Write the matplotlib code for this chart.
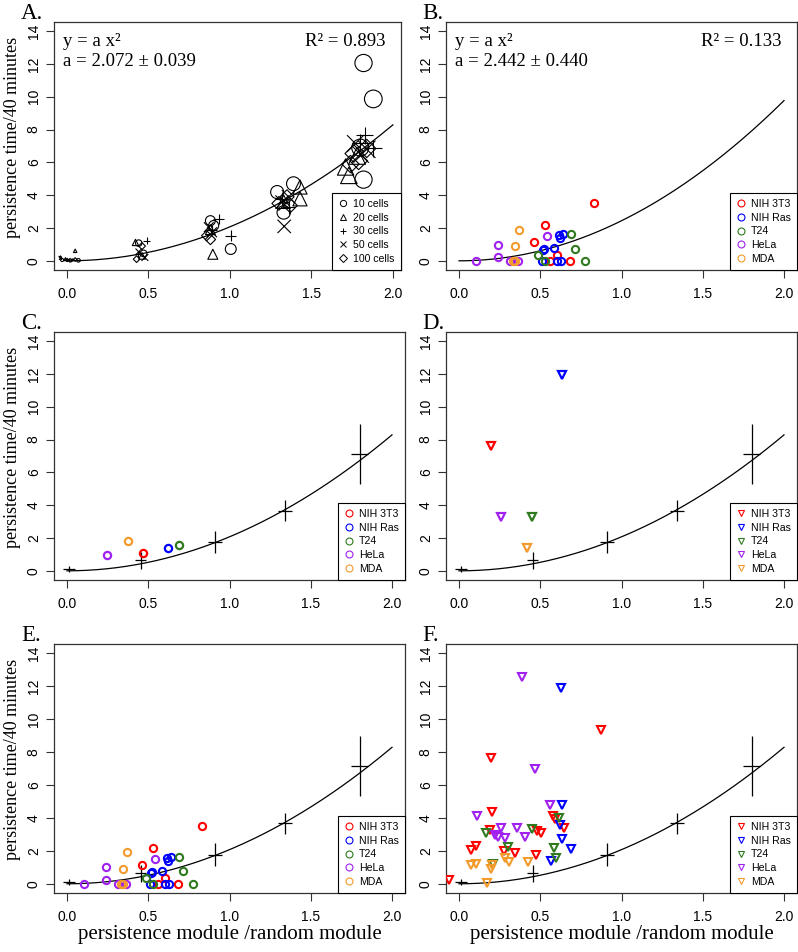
import numpy as np
import matplotlib
matplotlib.use('Agg')
import matplotlib.pyplot as plt
from matplotlib.lines import Line2D

SERIF = ['Liberation Serif', 'DejaVu Serif']
SANS = ['Liberation Sans', 'DejaVu Sans']
plt.rcParams['font.family'] = SANS

# ---------------- data ----------------
# Panel A: persistence data grouped by number of cells
group_labels = ['10 cells', '20 cells', '30 cells', '50 cells', '100 cells']
g10_x = [-0.03, 0.02, 0.07, 0.44, 0.47, 0.88, 0.90, 1.005, 1.29, 1.33, 1.39, 1.82, 1.88, 1.82, 1.80]
g10_y = [0.05, 0.02, 0.03, 1.08, 0.45, 2.45, 2.15, 0.72, 4.19, 2.95, 4.70, 12.06, 9.87, 4.95, 6.90]
g20_x = [0.05, -0.01, 0.42, 0.46, 0.895, 0.88, 1.33, 1.43, 1.43, 1.71, 1.73, 1.78]
g20_y = [0.61, 0.10, 1.12, 0.30, 0.40, 1.90, 3.60, 4.50, 3.78, 5.72, 5.21, 6.40]
g30_x = [-0.045, 0.03, 0.437, 0.488, 0.93, 1.005, 0.89, 1.32, 1.36, 1.826, 1.88, 1.80]
g30_y = [0.27, 0.10, 0.41, 1.23, 2.55, 1.53, 1.90, 3.78, 3.30, 7.66, 6.85, 7.20]
g50_x = [-0.04, 0.01, 0.478, 0.44, 0.89, 0.87, 1.333, 1.32, 1.36, 1.77, 1.84, 1.80]
g50_y = [0.15, 0.05, 0.20, 0.55, 1.74, 2.05, 2.10, 3.58, 3.90, 7.15, 6.80, 6.50]
g100_x = [0.0, 0.05, 0.427, 0.46, 0.857, 0.88, 1.30, 1.37, 1.35, 1.76, 1.84, 1.79, 1.74]
g100_y = [0.05, 0.08, 0.10, 0.90, 1.53, 1.30, 3.50, 3.37, 3.90, 6.54, 6.85, 6.10, 5.90]

# Fit parameters
fit_a_main = 2.072
fit_a_main_err = 0.039
fit_r2_main = 0.893
fit_a_cells = 2.442
fit_a_cells_err = 0.440
fit_r2_cells = 0.133

# Mean values of the group data (error crosses)
mean_x = [0.011, 0.454, 0.91, 1.342, 1.80]
mean_y = [0.10, 0.63, 1.77, 3.67, 7.13]
mean_xerr = [0.036, 0.035, 0.045, 0.045, 0.05]
mean_yerr = [0.17, 0.50, 0.68, 0.64, 1.83]

# Cell lines
cell_types = ['NIH 3T3', 'NIH Ras', 'T24', 'HeLa', 'MDA']

# Panel B / E: individual cell-line measurements
b_3t3_x = [0.831, 0.529, 0.463, 0.606, 0.561, 0.684]
b_3t3_y = [3.51, 2.16, 1.15, 0.38, 0.0, 0.0]
b_ras_x = [0.616, 0.622, 0.637, 0.586, 0.524, 0.514, 0.510, 0.606, 0.627]
b_ras_y = [1.55, 1.39, 1.63, 0.79, 0.71, 0.65, 0.0, 0.0, 0.0]
b_t24_x = [0.688, 0.714, 0.488, 0.529, 0.776]
b_t24_y = [1.61, 0.75, 0.38, 0.0, 0.0]
b_hela_x = [0.106, 0.239, 0.239, 0.541, 0.316, 0.361]
b_hela_y = [0.0, 0.99, 0.24, 1.51, 0.0, 0.0]
b_mda_x = [0.367, 0.343, 0.331, 0.345]
b_mda_y = [1.90, 0.89, 0.0, 0.0]

# Panel C: cell-line means (circles)
c_x = [0.47, 0.624, 0.689, 0.244, 0.373]
c_y = [1.09, 1.42, 1.58, 0.95, 1.84]

# Panel D: cell-line means (triangles)
d_x = [0.195, 0.633, 0.45, 0.257, 0.421]
d_y = [7.64, 11.92, 3.28, 3.28, 1.37]

# Panel F: individual measurements (triangles)
f_3t3_x = [-0.062, 0.196, 0.872, 0.206, 0.192, 0.076, 0.107, 0.278, 0.344, 0.474, 0.478, 0.507, 0.577, 0.588, 0.649]
f_3t3_y = [0.25, 7.66, 9.34, 4.35, 3.27, 2.04, 2.31, 2.00, 1.88, 1.74, 3.21, 3.07, 4.09, 3.94, 3.37]
f_ras_x = [0.629, 0.633, 0.623, 0.635, 0.691, 0.567]
f_ras_y = [11.91, 4.80, 3.54, 2.70, 2.10, 1.37]
f_t24_x = [0.169, 0.299, 0.449, 0.584, 0.614, 0.594, 0.21]
f_t24_y = [3.07, 2.25, 3.33, 2.19, 3.99, 1.57, 1.20]
f_hela_x = [0.388, 0.470, 0.109, 0.563, 0.256, 0.223, 0.241, 0.285, 0.357, 0.408]
f_hela_y = [12.53, 7.00, 4.09, 4.76, 3.37, 2.96, 2.82, 2.76, 3.37, 2.86]
f_mda_x = [0.171, 0.072, 0.103, 0.202, 0.196, 0.285, 0.305, 0.423]
f_mda_y = [0.05, 1.12, 1.23, 1.16, 0.92, 1.59, 1.33, 1.33]

x_ticks = [0.0, 0.5, 1.0, 1.5, 2.0]
x_tick_labels = ['0.0', '0.5', '1.0', '1.5', '2.0']
y_ticks = [0, 2, 4, 6, 8, 10, 12, 14]
y_tick_labels = ['0', '2', '4', '6', '8', '10', '12', '14']
x_title = 'persistence module /random module'
y_title = 'persistence time/40 minutes'
panel_letters = ['A.', 'B.', 'C.', 'D.', 'E.', 'F.']

# ---------------- styling ----------------
type_colors = ['#FF0000', '#0000FF', '#2F7A1E', '#A020F0', '#F39A2D']
group_markers = ['o', '^', '+', 'x', 'D']
W, H = 798, 952
FRAME = '#333333'

fig = plt.figure(figsize=(W / 100, H / 100), dpi=100)


def box(l, r, t, b):
    return [l / W, 1 - b / H, (r - l) / W, (b - t) / H]


LCOL = (54, 405)
RCOL = (446, 797)
ROWS = [(22, 270), (332, 580), (644, 893)]


def setup(ax, xlim=(-0.08, 2.08)):
    ax.set_xlim(*xlim)
    ax.set_ylim(-0.56, 14.56)
    ax.set_xticks(x_ticks)
    ax.set_xticklabels(x_tick_labels)
    ax.set_yticks(y_ticks)
    ax.set_yticklabels(y_tick_labels, rotation=90, va='center')
    ax.tick_params(direction='out', length=5.5, width=0.8, color=FRAME,
                   labelsize=10, pad=7)
    ax.tick_params(axis='y', pad=4)
    for s in ax.spines.values():
        s.set_color(FRAME)
        s.set_linewidth(0.9)


def curve(ax, a):
    xs = np.linspace(0, 2, 200)
    ax.plot(xs, a * xs ** 2, color='black', lw=0.9, zorder=2)


def crosses(ax):
    ax.errorbar(mean_x, mean_y, xerr=mean_xerr, yerr=mean_yerr, fmt='none',
                ecolor='black', elinewidth=0.9, capsize=0, zorder=3)


def legend_types(ax, marker):
    handles = [Line2D([], [], linestyle='none', marker=marker, markersize=5,
                      markerfacecolor='none', markeredgecolor=c, markeredgewidth=0.8)
               for c in type_colors]
    leg = ax.legend(handles, cell_types, loc='lower right', bbox_to_anchor=(1.0, 0.0),
                    borderaxespad=0.0, fontsize=7.6, handlelength=0.9,
                    handletextpad=0.5, labelspacing=0.35, borderpad=0.6,
                    fancybox=False, framealpha=1, edgecolor='black')
    leg.get_frame().set_linewidth(0.8)


def letter(ax_box, txt):
    l, t = ax_box
    fig.text(l / W, 1 - (t - 3) / H, txt, family=SERIF, fontsize=16.5,
             ha='left', va='baseline')


# ---- A ----
axA = fig.add_axes(box(54, 401, *ROWS[0]))
setup(axA, xlim=(-0.08, 2.05))
curve(axA, fit_a_main)
groups = [(g10_x, g10_y), (g20_x, g20_y), (g30_x, g30_y), (g50_x, g50_y), (g100_x, g100_y)]
for (gx, gy), mk in zip(groups, group_markers):
    gx = np.array(gx)
    gy = np.array(gy)
    sizes = (2.2 + 5.6 * np.clip(gx, 0, None)) ** 2
    if mk == 'D':
        sizes = sizes * 0.55
    if mk in ('+', 'x'):
        axA.scatter(gx, gy, s=sizes, marker=mk, color='black', linewidths=0.8, zorder=4)
    else:
        axA.scatter(gx, gy, s=sizes, marker=mk, facecolors='none', edgecolors='black',
                    linewidths=0.8, zorder=4)
handles = []
for mk in group_markers:
    ms = 4.5 if mk != 'D' else 3.6
    handles.append(Line2D([], [], linestyle='none', marker=mk, markersize=ms,
                          markerfacecolor='none', markeredgecolor='black', markeredgewidth=0.7))
leg = axA.legend(handles, group_labels, loc='lower right', bbox_to_anchor=(1.0, 0.0),
                 borderaxespad=0.0, fontsize=7.6, handlelength=0.9, handletextpad=0.5,
                 labelspacing=0.35, borderpad=0.6, fancybox=False, framealpha=1,
                 edgecolor='black')
leg.get_frame().set_linewidth(0.8)
axA.text(0.025, 0.955, 'y = a x\u00b2', transform=axA.transAxes, family=SERIF,
         fontsize=13.5, ha='left', va='top')
axA.text(0.025, 0.875, 'a = %.3f \u00b1 %.3f' % (fit_a_main, fit_a_main_err),
         transform=axA.transAxes, family=SERIF, fontsize=13.5, ha='left', va='top')
axA.text(0.955, 0.955, 'R\u00b2 = %.3f' % fit_r2_main, transform=axA.transAxes,
         family=SERIF, fontsize=13.5, ha='right', va='top')

# ---- B ----
axB = fig.add_axes(box(*RCOL, *ROWS[0]))
setup(axB)
curve(axB, fit_a_cells)
b_sets = [(b_3t3_x, b_3t3_y), (b_ras_x, b_ras_y), (b_t24_x, b_t24_y),
          (b_hela_x, b_hela_y), (b_mda_x, b_mda_y)]
for (bx, by), c in zip(b_sets, type_colors):
    axB.plot(bx, by, linestyle='none', marker='o', markersize=5.2, markerfacecolor='none',
             markeredgecolor=c, markeredgewidth=1.5, zorder=4)
legend_types(axB, 'o')
axB.text(0.025, 0.955, 'y = a x\u00b2', transform=axB.transAxes, family=SERIF,
         fontsize=13.5, ha='left', va='top')
axB.text(0.025, 0.875, 'a = %.3f \u00b1 %.3f' % (fit_a_cells, fit_a_cells_err),
         transform=axB.transAxes, family=SERIF, fontsize=13.5, ha='left', va='top')
axB.text(0.955, 0.955, 'R\u00b2 = %.3f' % fit_r2_cells, transform=axB.transAxes,
         family=SERIF, fontsize=13.5, ha='right', va='top')

# ---- C ----
axC = fig.add_axes(box(*LCOL, *ROWS[1]))
setup(axC)
curve(axC, fit_a_main)
crosses(axC)
for x, y, c in zip(c_x, c_y, type_colors):
    axC.plot([x], [y], linestyle='none', marker='o', markersize=5.2, markerfacecolor='none',
             markeredgecolor=c, markeredgewidth=1.6, zorder=4)
legend_types(axC, 'o')

# ---- D ----
axD = fig.add_axes(box(*RCOL, *ROWS[1]))
setup(axD)
curve(axD, fit_a_main)
crosses(axD)
for x, y, c in zip(d_x, d_y, type_colors):
    axD.plot([x], [y], linestyle='none', marker='v', markersize=6.2, markerfacecolor='none',
             markeredgecolor=c, markeredgewidth=1.6, zorder=4)
legend_types(axD, 'v')

# ---- E ----
axE = fig.add_axes(box(*LCOL, *ROWS[2]))
setup(axE)
curve(axE, fit_a_main)
crosses(axE)
for (bx, by), c in zip(b_sets, type_colors):
    axE.plot(bx, by, linestyle='none', marker='o', markersize=5.2, markerfacecolor='none',
             markeredgecolor=c, markeredgewidth=1.5, zorder=4)
legend_types(axE, 'o')

# ---- F ----
axF = fig.add_axes(box(*RCOL, *ROWS[2]))
setup(axF)
curve(axF, fit_a_main)
crosses(axF)
f_sets = [(f_3t3_x, f_3t3_y), (f_ras_x, f_ras_y), (f_t24_x, f_t24_y),
          (f_hela_x, f_hela_y), (f_mda_x, f_mda_y)]
for (fx, fy), c in zip(f_sets, type_colors):
    axF.plot(fx, fy, linestyle='none', marker='v', markersize=6.2, markerfacecolor='none',
             markeredgecolor=c, markeredgewidth=1.5, zorder=4)
legend_types(axF, 'v')

# panel letters
letter((21, ROWS[0][0]), panel_letters[0])
letter((422, ROWS[0][0]), panel_letters[1])
letter((21, ROWS[1][0]), panel_letters[2])
letter((422, ROWS[1][0]), panel_letters[3])
letter((21, ROWS[2][0]), panel_letters[4])
letter((422, ROWS[2][0]), panel_letters[5])

# axis titles
for (t, b) in ROWS:
    fig.text(13 / W, 1 - ((t + b) / 2 - 9) / H, y_title, family=SERIF, fontsize=13,
             rotation=90, ha='center', va='center')
for (l, r) in (LCOL, RCOL):
    fig.text(((l + r) / 2) / W, 1 - 935 / H, x_title, family=SERIF, fontsize=15,
             ha='center', va='center')

fig.savefig('out.png', dpi=100)
